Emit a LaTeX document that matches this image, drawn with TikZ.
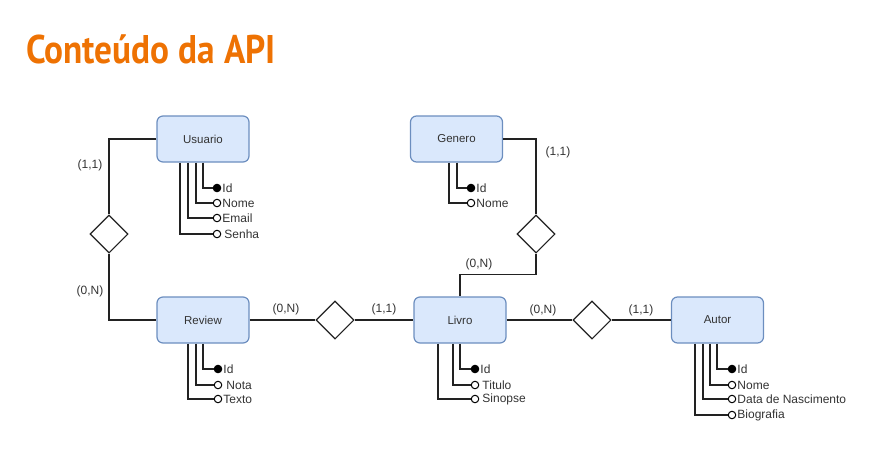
\documentclass[tikz,border=0pt]{standalone}
\usepackage{fontspec}
\setmainfont{Liberation Sans}
\newfontfamily\titlefont{PT Sans}
\usetikzlibrary{shapes.geometric}
\definecolor{boxfill}{HTML}{DAE8FC}
\definecolor{boxline}{HTML}{6C8EBF}
\definecolor{titleor}{HTML}{EE7203}
\definecolor{ink}{HTML}{333333}
\definecolor{lineink}{HTML}{222222}
\tikzset{
  entity/.style={draw=boxline, fill=boxfill, line width=1.2pt, rounded corners=6pt,
    minimum width=92pt, minimum height=46pt, inner sep=0pt, text=ink,
    font=\fontsize{11.5}{13}\selectfont},
  rel/.style={draw=lineink, fill=white, diamond, aspect=1, minimum size=38pt, inner sep=0pt, line width=1.1pt},
  conn/.style={draw=lineink, line width=1.2pt},
  keyattr/.style={circle, draw=black, fill=black, minimum size=7.5pt, inner sep=0pt, line width=1pt},
  attr/.style={circle, draw=black, fill=white, minimum size=7.5pt, inner sep=0pt, line width=1pt},
  atxt/.style={font=\fontsize{12}{13}\selectfont, text=ink, inner sep=0pt, label distance=1pt},
  card/.style={font=\fontsize{12}{13}\selectfont, text=ink, inner sep=0pt},
}
\begin{document}
\begin{tikzpicture}[x=1pt,y=-1pt]
\useasboundingbox (0,0) rectangle (880,469);
\node[anchor=base west, inner sep=0pt, text=titleor, font=\titlefont\bfseries\fontsize{40}{44}\selectfont] (title) at (26,63) {\scalebox{0.882}[1]{Conteúdo da API}};

% entities
\node[entity] (usuario) at (203,139) {Usuario};
\node[entity] (genero) at (456.5,139) {Genero};
\node[entity] (review) at (203,320) {Review};
\node[entity] (livro) at (460,320) {Livro};
\node[entity] (autor) at (717.5,320) {Autor};

% relationships
\node[rel] (d1) at (109,234) {};
\node[rel] (d3) at (536,234) {};
\node[rel] (d2) at (335,320) {};
\node[rel] (d4) at (592,320) {};

% connectors
\draw[conn] (usuario.west) -| (d1.north);
\draw[conn] (d1.south) |- (review.west);
\draw[conn] (review.east) -- (d2.west);
\draw[conn] (d2.east) -- (livro.west);
\draw[conn] (genero.east) -| (d3.north);
\draw[conn] (d3.south) -- ++(0,21) -| (livro.north);
\draw[conn] (livro.east) -- (d4.west);
\draw[conn] (d4.east) -- (autor.west);

% cardinalities
\node[card] (c1) at (90,165) {(1,1)};
\node[card] (c2) at (90,291) {(0,N)};
\node[card] (c3) at (286,309) {(0,N)};
\node[card] (c4) at (384,309) {(1,1)};
\node[card] (c5) at (558,152) {(1,1)};
\node[card] (c6) at (479,264) {(0,N)};
\node[card] (c7) at (543,310) {(0,N)};
\node[card] (c8) at (641,310) {(1,1)};

% Usuario attributes
\node[keyattr, label={[atxt]right:Id}] (uid) at (217,188) {};
\node[attr, label={[atxt]right:Nome}] (unome) at (217,203) {};
\node[attr, label={[atxt]right:Email}] (uemail) at (217,218) {};
\node[attr, label={[atxt,label distance=3pt]right:Senha}] (usenha) at (217,234) {};
\draw[conn] ([xshift=0pt]usuario.south) |- (uid.west);
\draw[conn] ([xshift=-7pt]usuario.south) |- (unome.west);
\draw[conn] ([xshift=-15pt]usuario.south) |- (uemail.west);
\draw[conn] ([xshift=-23pt]usuario.south) |- (usenha.west);

% Genero attributes
\node[keyattr, label={[atxt]right:Id}] (gid) at (471,188) {};
\node[attr, label={[atxt]right:Nome}] (gnome) at (471,203) {};
\draw[conn] ([xshift=0.5pt]genero.south) |- (gid.west);
\draw[conn] ([xshift=-7.5pt]genero.south) |- (gnome.west);

% Review attributes
\node[keyattr, label={[atxt]right:Id}] (rid) at (218,369) {};
\node[attr, label={[atxt,label distance=4pt]right:Nota}] (rnota) at (218,385) {};
\node[attr, label={[atxt]right:Texto}] (rtexto) at (218,399) {};
\draw[conn] ([xshift=0pt]review.south) |- (rid.west);
\draw[conn] ([xshift=-7pt]review.south) |- (rnota.west);
\draw[conn] ([xshift=-15pt]review.south) |- (rtexto.west);

% Livro attributes
\node[keyattr, label={[atxt]right:Id}] (lid) at (475,369) {};
\node[attr, label={[atxt,label distance=3pt]right:Titulo}] (ltitulo) at (475,385) {};
\node[attr, label={[atxt,label distance=3pt]right:Sinopse}] (lsinopse) at (475,399) {};
\draw[conn] ([xshift=0pt]livro.south) |- (lid.west);
\draw[conn] ([xshift=-7pt]livro.south) |- (ltitulo.west);
\draw[conn] ([xshift=-22pt]livro.south) |- (lsinopse.west);

% Autor attributes
\node[keyattr, label={[atxt]right:Id}] (aid) at (732,369) {};
\node[attr, label={[atxt]right:Nome}] (anome) at (732,385) {};
\node[attr, label={[atxt]right:Data de Nascimento}] (adata) at (732,399) {};
\node[attr, label={[atxt]right:Biografia}] (abio) at (732,415) {};
\draw[conn] ([xshift=-0.5pt]autor.south) |- (aid.west);
\draw[conn] ([xshift=-7.5pt]autor.south) |- (anome.west);
\draw[conn] ([xshift=-14.5pt]autor.south) |- (adata.west);
\draw[conn] ([xshift=-22.5pt]autor.south) |- (abio.west);
\end{tikzpicture}
\end{document}
